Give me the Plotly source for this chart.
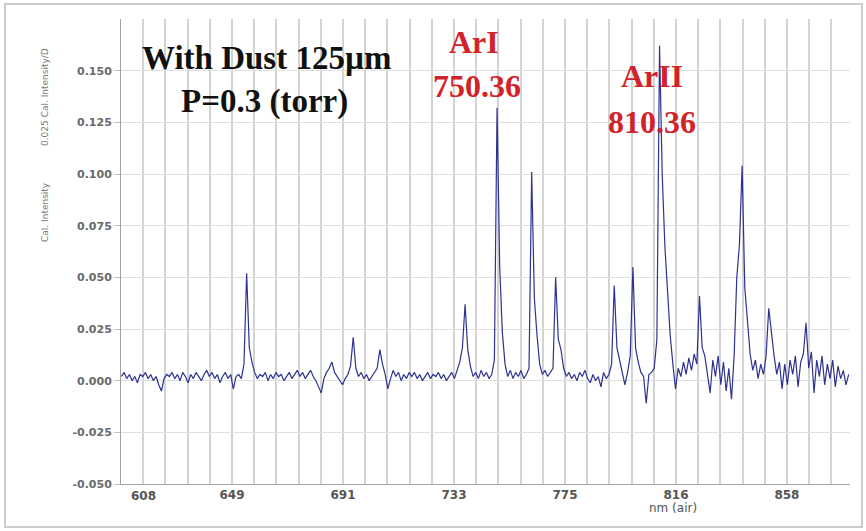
import numpy as np
import plotly.graph_objects as go

# ---------------- data ----------------
# calibrated intensity, one value per nm starting at 608 nm
INTENSITY = [
    0.002, 0.004, 0.001, 0.003, 0.000, 0.002, -0.001, 0.003, 0.002, 0.004,   # 608
    0.001, 0.003, 0.000, 0.002, -0.002, -0.005, 0.001, 0.003, 0.002, 0.004,  # 618
    0.001, 0.003, 0.000, 0.004, 0.002, -0.001, 0.003, 0.001, 0.004, 0.002,   # 628
    0.000, 0.003, 0.005, 0.002, 0.004, 0.001, 0.003, -0.001, 0.002, 0.004,   # 638
    0.001, 0.003, -0.004, 0.002, 0.003, 0.001, 0.008, 0.052, 0.016, 0.009,   # 648
    0.004, 0.001, 0.003, 0.002, 0.004, 0.000, 0.003, 0.001, 0.004, 0.002,    # 658
    0.003, 0.000, 0.002, 0.004, 0.001, 0.003, 0.005, 0.002, 0.004, 0.001,    # 668
    0.003, 0.005, 0.002, 0.000, -0.003, -0.006, 0.001, 0.004, 0.006, 0.009,  # 678
    0.004, 0.002, 0.000, -0.002, 0.001, 0.003, 0.007, 0.021, 0.006, 0.002,   # 688
    0.004, 0.001, 0.003, 0.000, 0.002, 0.004, 0.006, 0.015, 0.008, 0.003,    # 698
    -0.004, 0.001, 0.005, 0.002, 0.004, 0.000, 0.003, 0.001, 0.004, 0.002,   # 708
    0.004, 0.001, 0.003, 0.000, 0.002, 0.004, 0.001, 0.003, 0.002, 0.004,    # 718
    0.001, 0.003, 0.000, 0.002, 0.004, 0.001, 0.005, 0.009, 0.016, 0.037,    # 728
    0.015, 0.007, 0.002, 0.004, 0.001, 0.005, 0.002, 0.004, 0.001, 0.003,    # 738
    0.010, 0.132, 0.055, 0.023, 0.008, 0.002, 0.005, 0.001, 0.004, 0.002,    # 748
    0.005, 0.001, 0.003, 0.006, 0.101, 0.040, 0.022, 0.008, 0.003, 0.005,    # 758
    0.002, 0.004, 0.006, 0.050, 0.020, 0.015, 0.006, 0.002, 0.004, 0.001,    # 768
    0.003, 0.000, 0.004, 0.002, 0.005, 0.001, -0.001, 0.003, 0.000, 0.002,   # 778
    -0.003, 0.004, 0.001, 0.003, 0.008, 0.046, 0.016, 0.010, 0.003, -0.002,  # 788
    0.004, 0.012, 0.055, 0.016, 0.009, 0.004, 0.002, -0.011, 0.003, 0.004,   # 798
    0.006, 0.020, 0.162, 0.100, 0.065, 0.040, 0.022, 0.008, -0.004, 0.006,   # 808
    0.002, 0.009, 0.003, 0.011, 0.005, 0.013, 0.008, 0.041, 0.016, 0.012,    # 818
    0.004, -0.006, 0.010, 0.002, 0.012, -0.002, 0.009, -0.005, 0.006, -0.009, # 828
    0.012, 0.050, 0.066, 0.104, 0.045, 0.030, 0.013, 0.005, 0.010, 0.001,    # 838
    0.008, 0.003, 0.012, 0.035, 0.022, 0.012, 0.003, 0.009, -0.004, 0.008,   # 848
    -0.002, 0.010, 0.003, 0.012, -0.003, 0.009, 0.013, 0.028, 0.006, 0.014,  # 858
    -0.006, 0.010, 0.002, 0.012, -0.002, 0.008, 0.001, 0.010, -0.003, 0.007, # 868
    0.001, 0.005, -0.002, 0.003,                                             # 878
]
WAVELENGTH_START_NM = 608
WAVELENGTH = np.arange(WAVELENGTH_START_NM, WAVELENGTH_START_NM + len(INTENSITY))

X_TICK_VALS = [607.83, 649.5, 691.17, 732.83, 774.5, 816.17, 857.83]
X_TICK_TEXT = ["608", "649", "691", "733", "775", "816", "858"]
X_GRID_STEP = 8.3333
X_RANGE = [607.83, 881.5]

Y_TICK_VALS = [-0.05, -0.025, 0.0, 0.025, 0.05, 0.075, 0.1, 0.125, 0.15]
Y_TICK_TEXT = ["-0.050", "-0.025", "0.000", "0.025", "0.050", "0.075",
               "0.100", "0.125", "0.150"]
Y_RANGE = [-0.05, 0.175]

TITLE_LINES = ["With Dust 125µm", "P=0.3 (torr)"]
LINE_LABELS = [("ArI", "750.36"), ("ArII", "810.36")]

# ---------------- layout geometry ----------------
W, H = 866, 531
L, R, T, B = 121, 16, 19, 47
PW, PH = W - L - R, H - T - B


def px(x):
    return (x - L) / PW


def py(y):
    return (H - B - y) / PH


fig = go.Figure()
fig.add_trace(go.Scatter(
    x=WAVELENGTH, y=INTENSITY, mode="lines",
    line=dict(color="#2f3290", width=1.2),
    showlegend=False, hoverinfo="skip"))

tick_font = dict(family="DejaVu Sans", size=11, color="#6a6a6a", weight="bold")
x_tick_font = dict(family="DejaVu Sans", size=12, color="#555555", weight="bold")

fig.update_layout(
    width=W, height=H,
    margin=dict(l=L, r=R, t=T, b=B),
    paper_bgcolor="white", plot_bgcolor="white",
    xaxis=dict(
        range=X_RANGE, tickvals=X_TICK_VALS,
        ticktext=[""] + X_TICK_TEXT[1:],
        showgrid=False, zeroline=False,
        showline=True, linecolor="#a8a8a8", linewidth=1,
        ticks="", tickfont=x_tick_font,
        minor=dict(tick0=X_TICK_VALS[0], dtick=X_GRID_STEP, showgrid=True,
                   gridcolor="#d3d3d3", gridwidth=1.5, ticks=""),
    ),
    yaxis=dict(
        range=Y_RANGE, tickvals=Y_TICK_VALS, ticktext=Y_TICK_TEXT,
        showgrid=True, gridcolor="#e0e0e0", gridwidth=1,
        zeroline=False, showline=True, linecolor="#a0a0a0", linewidth=1,
        ticks="outside", ticklen=6, tickcolor="#c0c0c0",
        tickfont=tick_font,
    ),
)


def note(x, y, text, font, **kw):
    d = dict(x=px(x), y=py(y), xref="paper", yref="paper", showarrow=False,
             xanchor="center", yanchor="middle", text=text, font=font)
    d.update(kw)
    return d


annotations = []
# first x tick label sits to the right of its grid line in the reference
annotations.append(dict(
    x=X_TICK_VALS[0], xref="x", y=0, yref="paper", xshift=22, yshift=-3,
    xanchor="center", yanchor="top", showarrow=False, text=X_TICK_TEXT[0],
    font=x_tick_font))
annotations.append(note(673, 508, "nm (air)",
                        dict(family="DejaVu Sans", size=12, color="#555555")))
axis_title_font = dict(family="DejaVu Sans", size=9, color="#777777")
annotations.append(note(45, 212, "Cal. Intensity", axis_title_font, textangle=-90))
annotations.append(note(45, 97, "0.025 Cal. Intensity/D", axis_title_font, textangle=-90))

serif_black = dict(family="Liberation Serif", size=33, color="#111111", weight="bold")
serif_red = dict(family="Liberation Serif", size=32, color="#d2232a", weight="bold")

annotations.append(note(266, 58, TITLE_LINES[0], serif_black))
annotations.append(note(264, 101, TITLE_LINES[1], serif_black))
annotations.append(note(474, 42, LINE_LABELS[0][0], serif_red))
annotations.append(note(477, 86, LINE_LABELS[0][1], serif_red))
annotations.append(note(652, 76, LINE_LABELS[1][0], serif_red))
annotations.append(note(652, 122, LINE_LABELS[1][1], serif_red))

fig.update_layout(annotations=annotations)

# light frame around the whole picture
fig.add_shape(type="rect", xref="paper", yref="paper",
              x0=px(5), x1=px(862), y0=py(527), y1=py(4),
              line=dict(color="#cccccc", width=2), layer="below")

fig.write_html("out.html", config={"displayModeBar": False},
               post_script="document.body.style.margin='0';document.body.style.overflow='hidden';")
